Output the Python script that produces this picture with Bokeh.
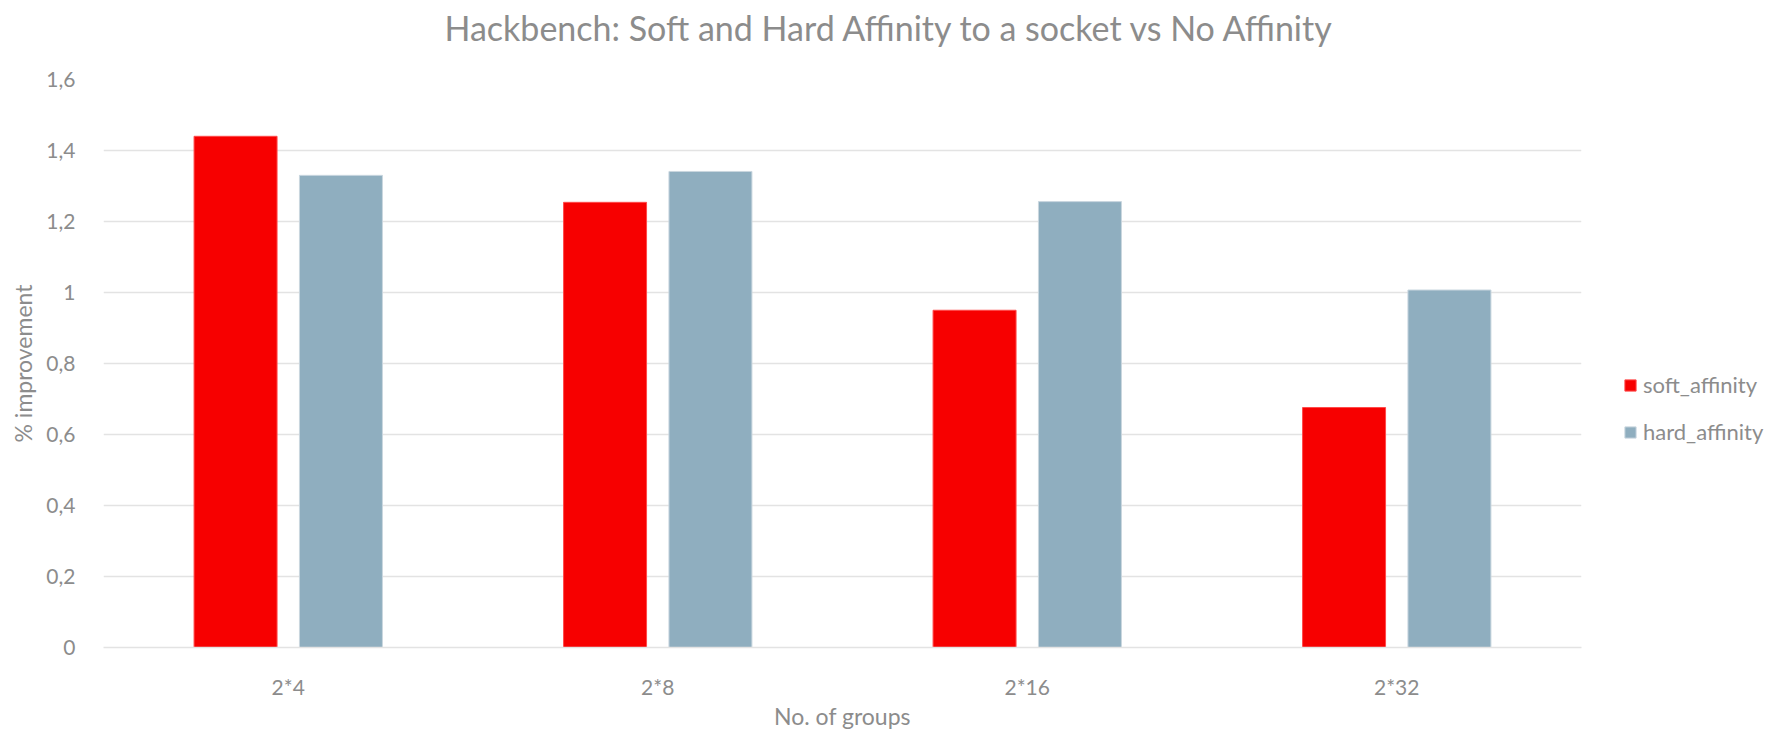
from bokeh.plotting import figure
from bokeh.models import (ColumnDataSource, FactorRange, Range1d, FixedTicker,
                          CustomJSTickFormatter, Legend, LegendItem, Title)
from bokeh.transform import dodge
from bokeh.embed import file_html
from bokeh.resources import INLINE

# Hackbench results: % improvement over no affinity
groups = ["2*4", "2*8", "2*16", "2*32"]
soft_affinity = [1.44, 1.254, 0.95, 0.676]
hard_affinity = [1.33, 1.341, 1.256, 1.007]
y_ticks = [0, 0.2, 0.4, 0.6, 0.8, 1.0, 1.2, 1.4, 1.6]

FONT = "Lato"
GREY = "#8c8c8c"
RED = "#f70000"
BLUE = "#8faebf"

source = ColumnDataSource(data=dict(groups=groups, soft=soft_affinity, hard=hard_affinity))

p = figure(
    x_range=FactorRange(*groups),
    y_range=Range1d(0, 1.6),
    frame_width=1478, frame_height=568,
    output_backend="svg", toolbar_location=None,
    min_border_left=103, min_border_right=194,
    min_border_top=79, min_border_bottom=86,
)
p.outline_line_color = None
p.background_fill_color = "white"
p.border_fill_color = "white"

bar_w = 0.2246
r_soft = p.vbar(x=dodge("groups", -0.1426, range=p.x_range), top="soft", width=bar_w,
                source=source, fill_color=RED, line_color="#ff4a4a", line_width=1)
r_hard = p.vbar(x=dodge("groups", 0.1426, range=p.x_range), top="hard", width=bar_w,
                source=source, fill_color=BLUE, line_color="#c9d6df", line_width=1)

# grid
p.xgrid.grid_line_color = None
p.ygrid.grid_line_color = "#e3e3e3"
p.ygrid.grid_line_width = 1.6

# y axis
p.yaxis.ticker = FixedTicker(ticks=y_ticks)
p.yaxis.formatter = CustomJSTickFormatter(
    code="const s = (Math.round(tick * 10) / 10).toString(); return s.replace('.', ',');")
p.yaxis.axis_line_color = None
p.yaxis.major_tick_line_color = None
p.yaxis.minor_tick_line_color = None
p.yaxis.major_label_standoff = 22
p.yaxis.major_label_text_font = FONT
p.yaxis.major_label_text_font_size = "21px"
p.yaxis.major_label_text_color = GREY
p.yaxis.axis_label = "% improvement"
p.yaxis.axis_label_text_font = FONT
p.yaxis.axis_label_text_font_size = "23px"
p.yaxis.axis_label_text_font_style = "normal"
p.yaxis.axis_label_text_color = GREY
p.yaxis.axis_label_standoff = 6

# x axis
p.xaxis.axis_line_color = "#e3e3e3"
p.xaxis.axis_line_width = 1.6
p.xaxis.major_tick_line_color = None
p.xaxis.minor_tick_line_color = None
p.xaxis.major_label_standoff = 20
p.xaxis.major_label_text_font = FONT
p.xaxis.major_label_text_font_size = "21px"
p.xaxis.major_label_text_color = GREY
p.xaxis.axis_label = "No. of groups"
p.xaxis.axis_label_text_font = FONT
p.xaxis.axis_label_text_font_size = "23px"
p.xaxis.axis_label_text_font_style = "normal"
p.xaxis.axis_label_text_color = GREY
p.xaxis.axis_label_standoff = 0

# empty band between the plot area and the chart title
spacer = Title(text=" ", text_font_size="1px", standoff=22)
p.add_layout(spacer, "above")

# chart title, shifted so it sits centred on the whole canvas
title = Title(
    text="Hackbench: Soft and Hard Affinity to a socket vs No Affinity",
    align="left", offset=341, standoff=10, vertical_align="top",
    text_font=FONT, text_font_size="34px", text_color=GREY, text_font_style="normal",
)
p.add_layout(title, "above")

legend = Legend(
    items=[LegendItem(label="soft_affinity", renderers=[r_soft]),
           LegendItem(label="hard_affinity", renderers=[r_hard])],
    location=(42, 202),
    glyph_width=14, glyph_height=14,
    label_standoff=6, label_height=14,
    label_text_font=FONT, label_text_font_size="22px", label_text_color=GREY,
    spacing=20, padding=0, margin=0,
    border_line_color=None, background_fill_alpha=0,
)
p.add_layout(legend, "right")

open("out.html", "w").write(file_html(p, INLINE))
